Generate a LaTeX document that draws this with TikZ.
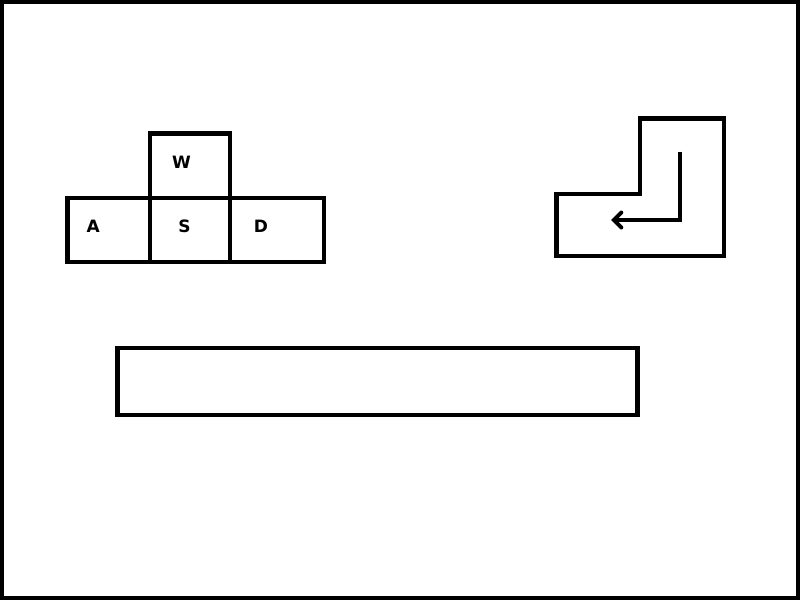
\documentclass[tikz,border=0pt]{standalone}
\usepackage{fontspec}
\newfontfamily\keyfont{DejaVu Sans}
\usetikzlibrary{arrows.meta}
\begin{document}
\begin{tikzpicture}[x=1pt,y=-1pt,
  thick line/.style={line width=4.5pt},
  keybox/.style={draw,thick line,rectangle,inner sep=0pt,minimum height=64pt},
  keylabel/.style={inner sep=0pt,font=\keyfont\bfseries\fontsize{17}{17}\selectfont}]
\useasboundingbox (0,0) rectangle (800,600);
% frame
\draw[line width=4pt] (2,2) rectangle (797.5,597.5);
% keys
\node[keybox,minimum width=82.5pt] (A) at (108.75,230) {};
\node[keybox,minimum width=80pt] (S) at (190,230) {};
\node[keybox,minimum width=94pt] (D) at (277,230) {};
\node[keybox,minimum width=80pt,minimum height=64.5pt] (W) at (190,165.75) {};
\node[keylabel] (Wl) at (181.5,162.5) {W};
\node[keylabel] (Al) at (93.3,226.7) {A};
\node[keylabel] (Sl) at (184.5,226.7) {S};
\node[keylabel] (Dl) at (261,226.7) {D};
% L-shaped key
\draw[thick line] (556.5,194) -- (640,194) -- (640,118.5) -- (724,118.5) -- (724,256) -- (556.5,256) -- cycle;
\coordinate (arrStart) at (680,151.5);
\coordinate (arrCorner) at (680,220);
\coordinate (arrEnd) at (611,220);
\draw[line width=4pt,-{Straight Barb[length=7.5pt,width=15pt,line cap=round]}] (arrStart) -- (arrCorner) -- (arrEnd);
% space bar
\node[draw,thick line,rectangle,inner sep=0pt,minimum width=520pt,minimum height=66.8pt] (space) at (377.5,381.4) {};
\end{tikzpicture}
\end{document}
